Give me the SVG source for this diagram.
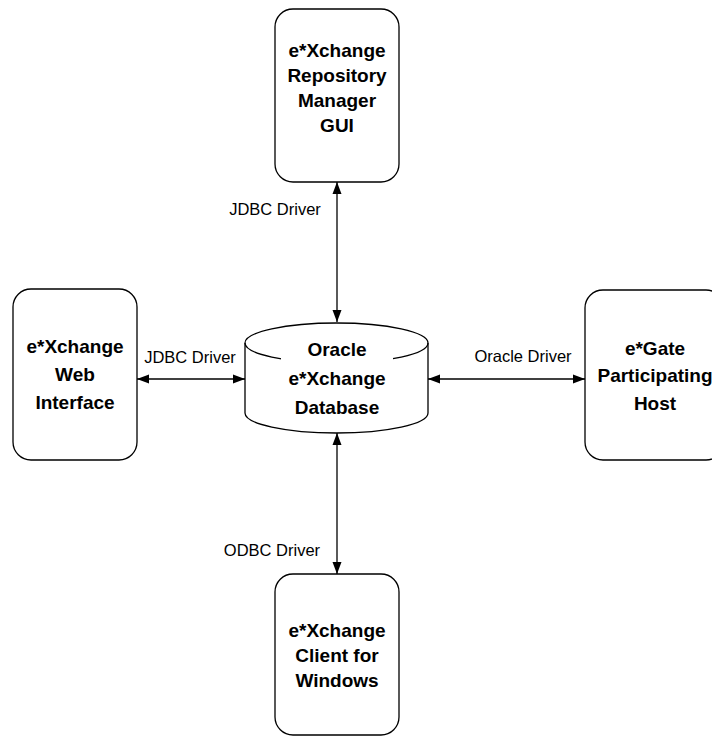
<svg xmlns="http://www.w3.org/2000/svg" width="712" height="743" viewBox="0 0 712 743">
<style>
.box{fill:#fff;stroke:#000;stroke-width:1.3}
.b{font-family:"Liberation Sans",Arial,sans-serif;font-weight:bold;font-size:19px;text-anchor:middle;fill:#000}
.l{font-family:"Liberation Sans",Arial,sans-serif;font-size:16.5px;text-anchor:middle;fill:#000}
.c{stroke:#000;stroke-width:1.3;fill:none;marker-start:url(#a);marker-end:url(#a)}
</style>
<defs>
<marker id="a" viewBox="0 0 12 10" refX="12" refY="5" markerWidth="12" markerHeight="10" markerUnits="userSpaceOnUse" orient="auto-start-reverse">
<path d="M0,0.5 L12,5 L0,9.5 Z" fill="#000"/>
</marker>
</defs>
<rect width="712" height="743" fill="#fff"/>
<g id="connectors">
<line class="c" x1="337" y1="182" x2="337" y2="322"/>
<line class="c" x1="137" y1="379" x2="245" y2="379"/>
<line class="c" x1="428" y1="379" x2="585" y2="379"/>
<line class="c" x1="337" y1="433" x2="337" y2="574"/>
<text class="l" x="275" y="215">JDBC Driver</text>
<text class="l" x="190" y="363">JDBC Driver</text>
<text class="l" x="523" y="362">Oracle Driver</text>
<text class="l" x="272" y="556">ODBC Driver</text>
</g>
<g id="repo">
<rect class="box" x="275" y="9" width="124" height="173" rx="18"/>
<text class="b" x="337" y="57">e*Xchange</text>
<text class="b" x="337" y="82">Repository</text>
<text class="b" x="337" y="107">Manager</text>
<text class="b" x="337" y="132">GUI</text>
</g>
<g id="web">
<rect class="box" x="13" y="289" width="124" height="171" rx="18"/>
<text class="b" x="75" y="353">e*Xchange</text>
<text class="b" x="75" y="381">Web</text>
<text class="b" x="75" y="409">Interface</text>
</g>
<g id="db">
<path class="box" d="M245,343 A91.5,20 0 0 1 428,343 L428,413 A91.5,20 0 0 1 245,413 Z"/>
<path d="M245,343 A91.5,20 0 0 0 428,343" fill="none" stroke="#000" stroke-width="1.3"/>
<rect x="281" y="337" width="112" height="82" fill="#fff"/>
<text class="b" x="337" y="356">Oracle</text>
<text class="b" x="337" y="385">e*Xchange</text>
<text class="b" x="337" y="414">Database</text>
</g>
<g id="egate">
<rect class="box" x="585" y="290" width="139" height="170" rx="18"/>
<text class="b" x="655" y="355">e*Gate</text>
<text class="b" x="655" y="382">Participating</text>
<text class="b" x="655" y="410">Host</text>
</g>
<g id="client">
<rect class="box" x="275" y="574" width="124" height="161" rx="18"/>
<text class="b" x="337" y="637">e*Xchange</text>
<text class="b" x="337" y="662">Client for</text>
<text class="b" x="337" y="687">Windows</text>
</g>
</svg>
